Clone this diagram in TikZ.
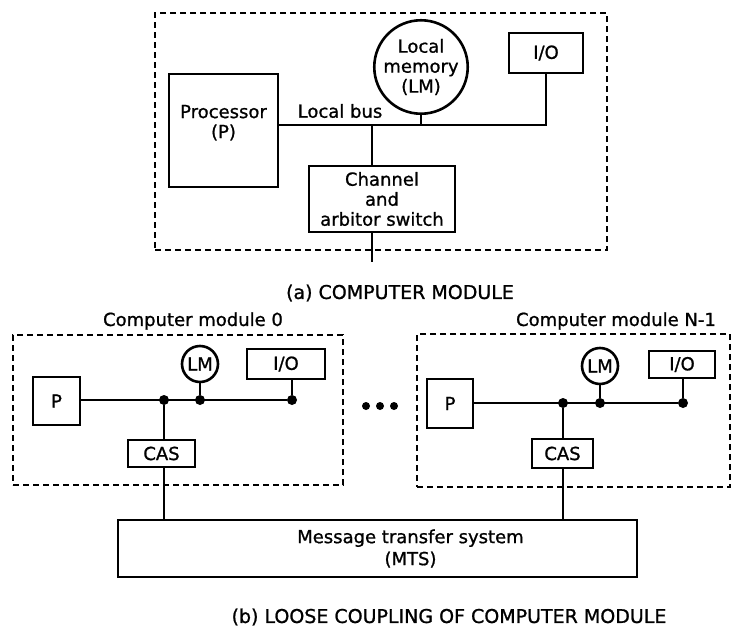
\documentclass[tikz,border=0pt]{standalone}
\usepackage{fontspec}
\setmainfont[FakeBold=1]{DejaVu Sans}
\usepackage{tikz}
\usetikzlibrary{positioning, calc}
\newcommand{\lettering}{\fontsize{18}{20}\selectfont}

\begin{document}
\begin{tikzpicture}[
    x=1pt, y=-1pt,
    box/.style={draw, line width=2.6pt, align=center, font=\lettering, inner sep=0pt},
    memcircle/.style={box, circle},
    frame/.style={draw, line width=2pt, dash pattern=on 6pt off 4pt},
    bus/.style={line width=2.6pt},
    jdot/.style={circle, fill, inner sep=0pt, minimum size=10pt},
    edot/.style={circle, fill, inner sep=0pt, minimum size=8pt},
    lab/.style={font=\lettering, inner sep=1pt},
    captext/.style={font=\fontsize{19}{22}\selectfont, inner sep=1pt}
]
\useasboundingbox (0,0) rectangle (734,627);

% (a) computer module
\node[frame, minimum width=452, minimum height=237] (framea) at (381,131.5) {};
\node[box, minimum width=109, minimum height=113] (proc) at (223.5,130.5) {Processor\\(P)\\[-2pt]};
\node[memcircle, minimum size=90] (lm) at (421,67) {Local\\memory\\(LM)};
\node[box, minimum width=74, minimum height=40] (io) at (546,53) {I/O};
\node[box, minimum width=146, minimum height=66] (chan) at (382,199) {Channel\\and\\arbitor switch};
\node[lab] (buslab) at (340,111) {Local bus};
\coordinate (busR) at (546,125);
\coordinate (chj) at (372,125);
\coordinate (chout) at (372,262);
\draw[bus] (proc.east |- busR) -- (busR) -- (io.south);
\draw[bus] (lm.south) -- (lm.south |- busR);
\draw[bus] (chj) -- (chj |- chan.north);
\draw[bus] (chan.south -| chout) -- (chout);
\node[captext] (capa) at (400,293) {(a) COMPUTER MODULE};

% (b) module 0
\node[frame, minimum width=330, minimum height=150] (frame0) at (178,410) {};
\node[lab] (lab0) at (193,321) {Computer module 0};
\node[box, minimum width=47, minimum height=48] (p0) at (56.5,401) {P};
\node[memcircle, minimum size=36] (lm0) at (200,364) {LM};
\node[box, minimum width=78, minimum height=30] (io0) at (286,364) {I/O};
\node[box, minimum width=67, minimum height=27] (cas0) at (161.5,453.5) {CAS};
\node[jdot] (j0c) at (164,400) {};
\node[jdot] (j0m) at (200,400) {};
\node[jdot] (j0i) at (292,400) {};
\draw[bus] (p0.east |- j0c) -- (j0i);
\draw[bus] (lm0) -- (j0m);
\draw[bus] (io0.south -| j0i) -- (j0i);
\draw[bus] (j0c) -- (j0c |- cas0.north);

% (b) module N-1
\node[frame, minimum width=313, minimum height=153] (frame1) at (573.5,410.5) {};
\node[lab] (lab1) at (616,321) {Computer module N-1};
\node[box, minimum width=46, minimum height=49] (p1) at (450,403.5) {P};
\node[memcircle, minimum size=36] (lm1) at (600,366) {LM};
\node[box, minimum width=66, minimum height=27] (io1) at (682,364.5) {I/O};
\node[box, minimum width=61, minimum height=29] (cas1) at (562.5,453.5) {CAS};
\node[jdot] (j1c) at (563,403) {};
\node[jdot] (j1m) at (600,403) {};
\node[jdot] (j1i) at (683,403) {};
\draw[bus] (p1.east |- j1c) -- (j1i);
\draw[bus] (lm1) -- (j1m);
\draw[bus] (io1.south -| j1i) -- (j1i);
\draw[bus] (j1c) -- (j1c |- cas1.north);

% ellipsis between modules
\node[edot] (e1) at (366,406) {};
\node[edot] (e2) at (380,406) {};
\node[edot] (e3) at (394,406) {};

% message transfer system
\node[box, minimum width=519, minimum height=57] (mts) at (377.5,548.5) {};
\node[lab, align=center] (mtslab) at ([xshift=33]mts.center) {Message transfer system\\[2pt](MTS)};
\draw[bus] (cas0.south -| j0c) -- (mts.north -| j0c);
\draw[bus] (cas1.south -| j1c) -- (mts.north -| j1c);
\node[captext] (capb) at (449,617) {(b) LOOSE COUPLING OF COMPUTER MODULE};
\end{tikzpicture}
\end{document}
